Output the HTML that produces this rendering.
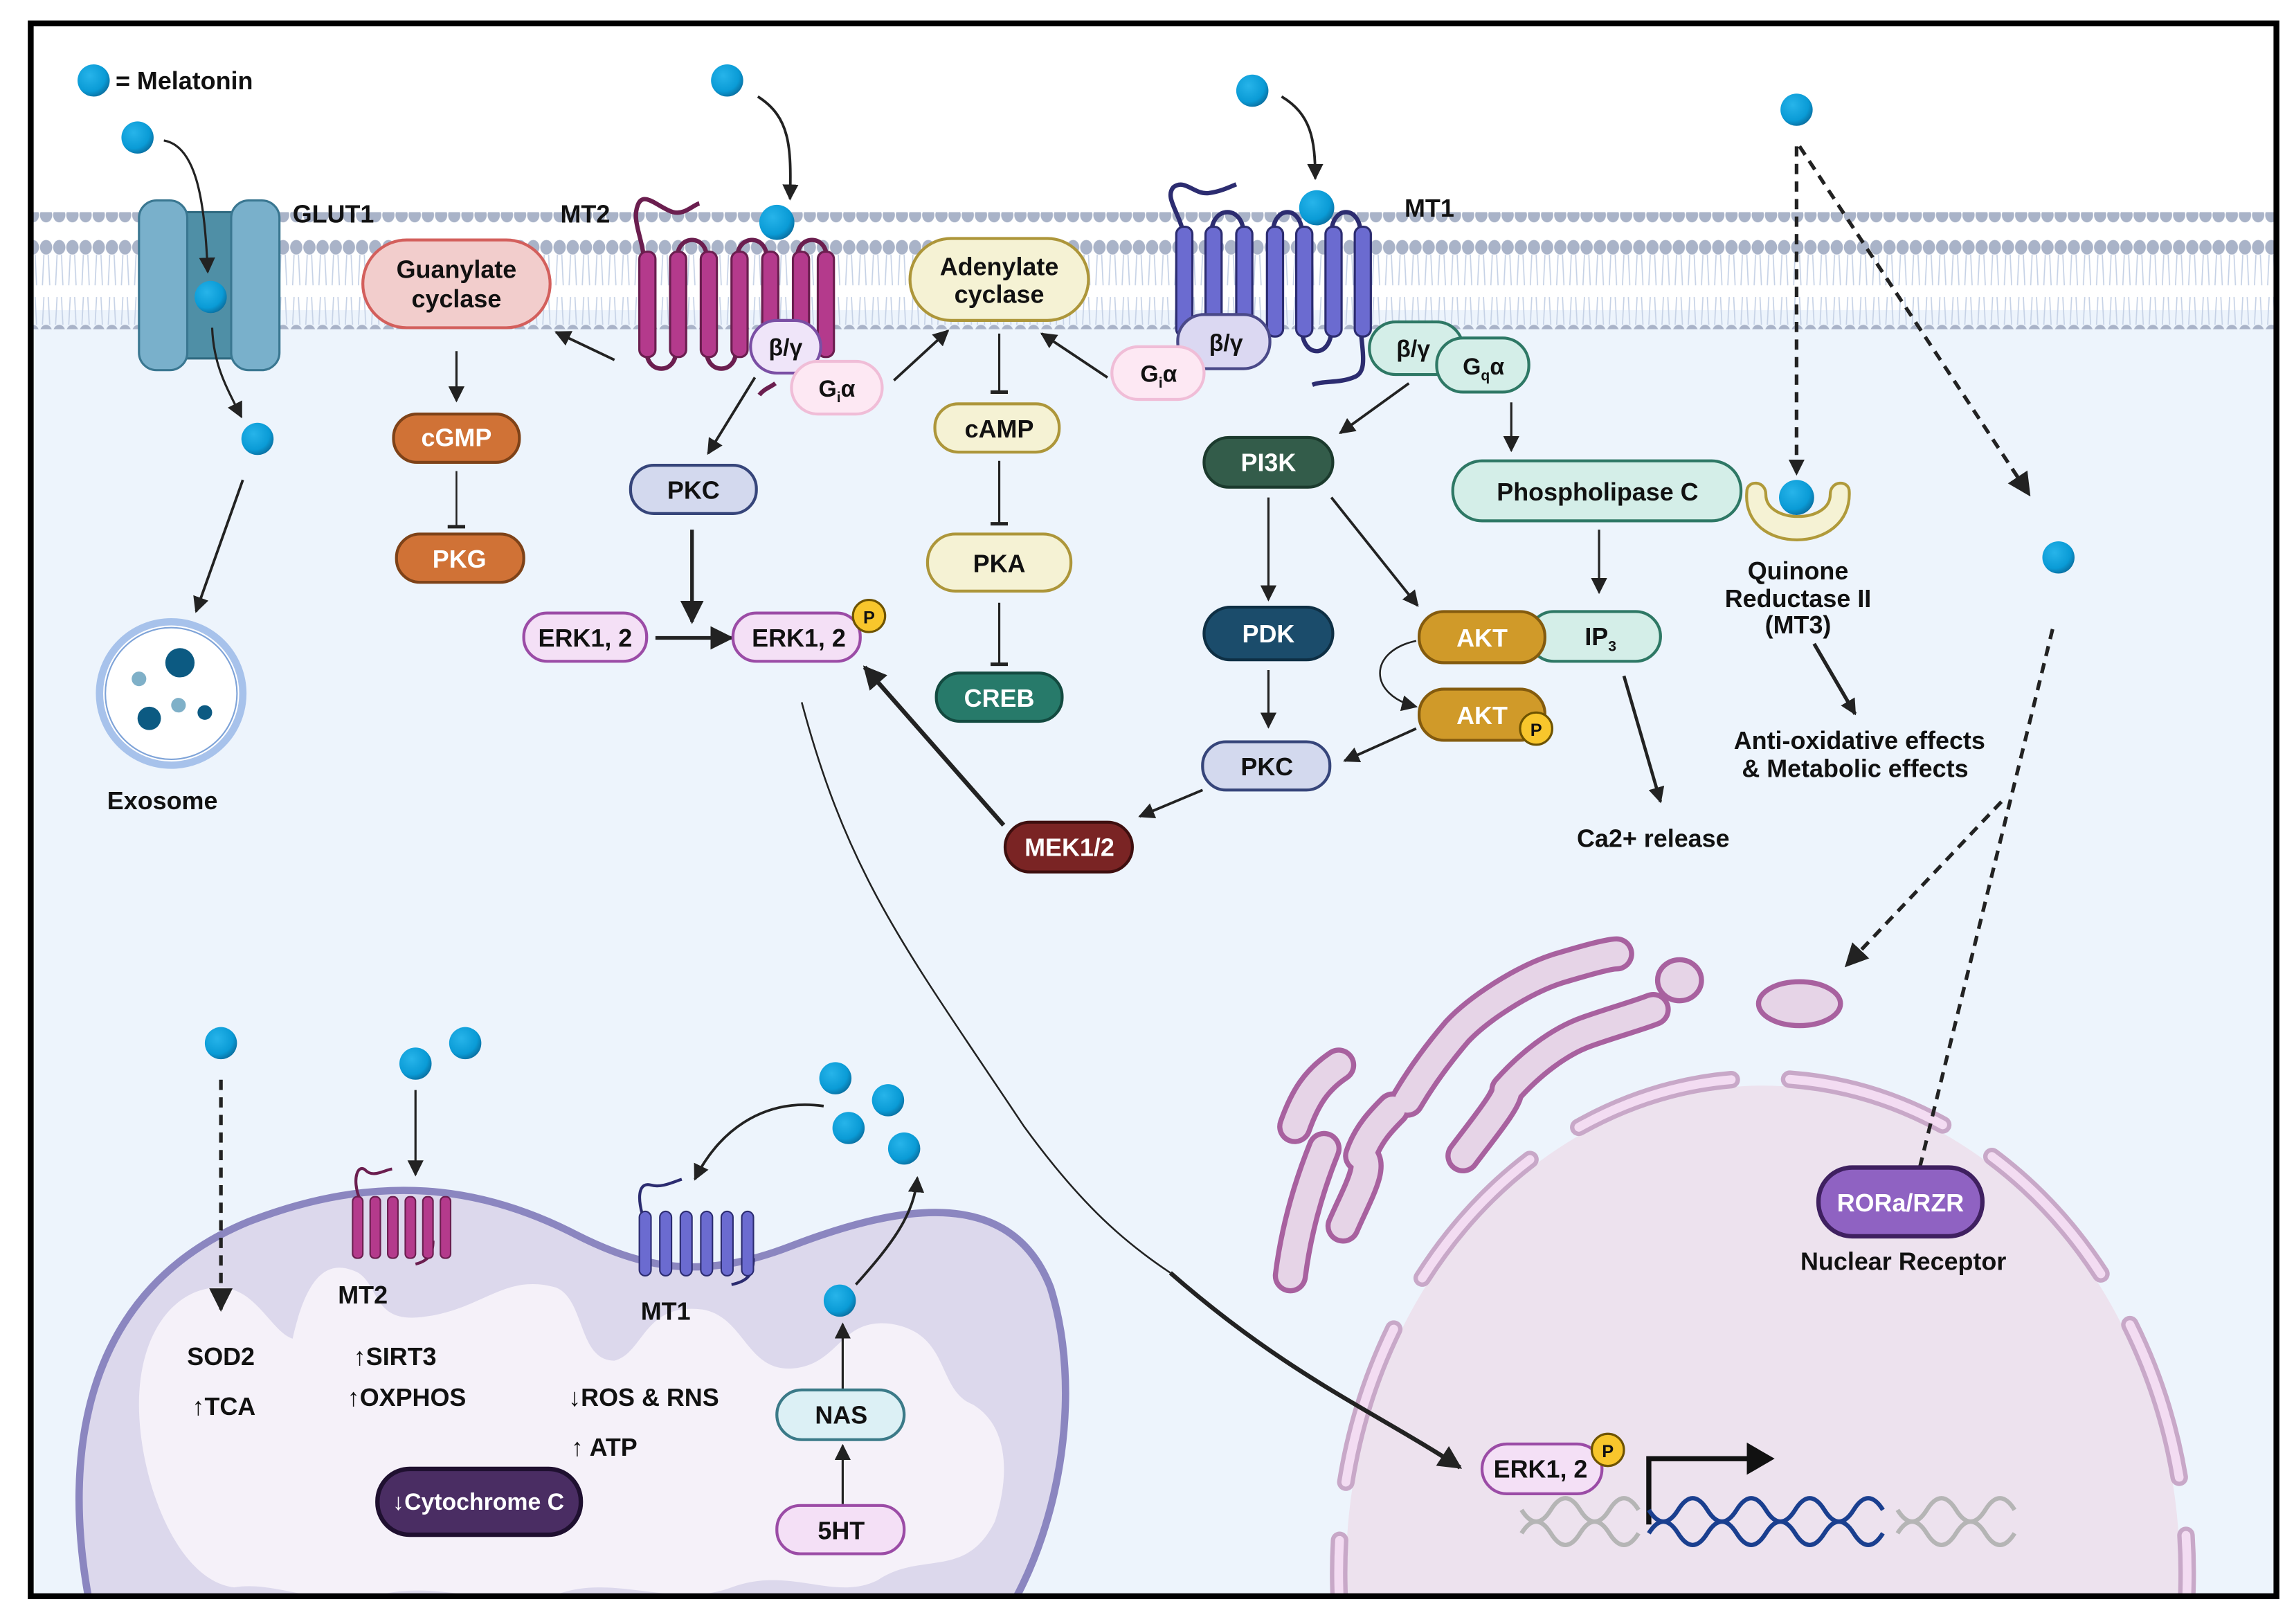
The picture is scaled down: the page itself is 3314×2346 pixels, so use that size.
<!DOCTYPE html>
<html><head><meta charset="utf-8">
<style>
html,body{margin:0;padding:0;background:#fff;width:3314px;height:2346px;overflow:hidden;}
svg{display:block;}
text{font-family:"Liberation Sans",sans-serif;font-weight:bold;fill:#111;}
</style></head><body>
<svg width="3314" height="2346" viewBox="0 0 1568 1110" xmlns="http://www.w3.org/2000/svg">
<defs>
<radialGradient id="ball" cx="0.38" cy="0.35" r="0.7">
<stop offset="0" stop-color="#27b4ea"/><stop offset="0.7" stop-color="#0a9bd6"/><stop offset="1" stop-color="#0a6d9e"/>
</radialGradient>
<marker id="a" viewBox="0 0 10 10" refX="9" refY="5" markerWidth="11" markerHeight="11" orient="auto" markerUnits="userSpaceOnUse">
<path d="M0,0 L10,5 L0,10 Z" fill="#222"/></marker>
<marker id="ab" viewBox="0 0 10 10" refX="9" refY="5" markerWidth="16" markerHeight="16" orient="auto" markerUnits="userSpaceOnUse">
<path d="M0,0 L10,5 L0,10 Z" fill="#222"/></marker>
<marker id="tb" viewBox="0 0 10 10" refX="5" refY="5" markerWidth="12" markerHeight="12" orient="auto" markerUnits="userSpaceOnUse">
<path d="M5,0 L5,10" stroke="#222" stroke-width="2"/></marker>
<pattern id="mem" x="0" y="0" width="9" height="80" patternUnits="userSpaceOnUse">
<path d="M3,14 L2,35 M6,14 L7,35" stroke="#c6d2e6" stroke-width="0.8" fill="none"/>
<path d="M3,43 L2,62 M6,43 L7,62" stroke="#c6d2e6" stroke-width="0.8" fill="none"/>
<ellipse cx="4.5" cy="9" rx="4.2" ry="5" fill="#a9b3c8"/>
<ellipse cx="4.5" cy="67" rx="4.2" ry="5" fill="#a9b3c8"/>
</pattern>
<clipPath id="frame"><rect x="21" y="16" width="1535" height="1075"/></clipPath>
</defs>

<rect x="0" y="0" width="1568" height="1110" fill="#fff"/>
<rect x="21" y="212" width="1535" height="879" fill="#edf4fc"/>
<rect x="21" y="145" width="1535" height="80" fill="url(#mem)"/>

<g clip-path="url(#frame)">
<ellipse cx="1205" cy="1075" rx="285" ry="333" fill="#ede2ee"/>
<ellipse cx="1205" cy="1075" rx="290" ry="338" fill="none" stroke="#c8a8c8" stroke-width="12" stroke-dasharray="110 40" stroke-linecap="round"/>
<ellipse cx="1205" cy="1075" rx="290" ry="338" fill="none" stroke="#f3dcf2" stroke-width="6" stroke-dasharray="110 40" stroke-linecap="round"/>

<g fill="none" stroke-linecap="round" stroke-linejoin="round">
<g stroke="#a8619f" stroke-width="24">
<path d="M882 872 C 886 840, 895 810, 905 785"/>
<path d="M885 770 C 892 750, 900 738, 915 728"/>
<path d="M918 838 C 928 815, 940 795, 930 790 C 935 775, 945 765, 952 758"/>
<path d="M962 752 C 975 730, 990 712, 996 705 C 1010 690, 1040 670, 1065 662 C 1085 656, 1100 652, 1105 652"/>
<path d="M1000 790 C 1015 770, 1030 752, 1030 745 C 1045 728, 1065 712, 1085 705 C 1105 698, 1120 694, 1130 690"/>
</g>
<g stroke="#e6d4e7" stroke-width="17">
<path d="M882 872 C 886 840, 895 810, 905 785"/>
<path d="M885 770 C 892 750, 900 738, 915 728"/>
<path d="M918 838 C 928 815, 940 795, 930 790 C 935 775, 945 765, 952 758"/>
<path d="M962 752 C 975 730, 990 712, 996 705 C 1010 690, 1040 670, 1065 662 C 1085 656, 1100 652, 1105 652"/>
<path d="M1000 790 C 1015 770, 1030 752, 1030 745 C 1045 728, 1065 712, 1085 705 C 1105 698, 1120 694, 1130 690"/>
</g>
</g>
<ellipse cx="1148" cy="670" rx="15" ry="14" fill="#e6d4e7" stroke="#a8619f" stroke-width="3.5"/>
<ellipse cx="1230" cy="686" rx="28" ry="15" fill="#e6d4e7" stroke="#a8619f" stroke-width="3.5"/>

<path d="M62 1100 C 40 990, 60 880, 170 835 C 260 800, 330 812, 390 842 C 440 868, 480 875, 540 852 C 610 825, 690 808, 718 880 C 740 950, 725 1040, 690 1100 Z" fill="#dcd8ec" stroke="#8b86c0" stroke-width="5"/>
<path d="M95 960 C 95 910, 120 880, 150 880 C 175 880, 185 910, 200 915 C 210 870, 225 860, 245 870 C 260 880, 255 905, 290 900 C 330 895, 345 870, 380 880 C 400 888, 395 930, 420 930 C 440 925, 440 890, 480 895 C 510 900, 510 940, 545 935 C 575 930, 575 900, 610 905 C 650 912, 640 950, 665 960 C 690 975, 690 1010, 680 1040 C 660 1080, 630 1060, 600 1080 C 570 1095, 540 1070, 500 1085 C 460 1100, 420 1075, 380 1090 C 340 1100, 300 1080, 260 1090 C 220 1100, 190 1080, 160 1085 C 120 1080, 95 1010, 95 960 Z" fill="#f5f1f9"/>
</g>

<rect x="21" y="16" width="1535" height="1075" fill="none" stroke="#000" stroke-width="4"/>

<circle cx="64" cy="55" r="11" fill="url(#ball)"/>
<text x="79" y="61" font-size="17">= Melatonin</text>

<path d="M120 145 L165 145 L165 245 L120 245 Z" fill="#4f8fa6" stroke="#2f6a80" stroke-width="1.5"/>
<rect x="95" y="137" width="33" height="116" rx="12" fill="#79b0cb" stroke="#3a7791" stroke-width="1.5"/>
<rect x="158" y="137" width="33" height="116" rx="12" fill="#79b0cb" stroke="#3a7791" stroke-width="1.5"/>
<text x="200" y="152" font-size="17">GLUT1</text>
<circle cx="94" cy="94" r="11" fill="url(#ball)"/>
<path d="M112 96 C 135 100, 140 140, 142 186" fill="none" stroke="#222" stroke-width="1.5" marker-end="url(#a)"/>
<circle cx="144" cy="203" r="11" fill="url(#ball)"/>
<path d="M145 224 C 146 250, 155 265, 165 285" fill="none" stroke="#222" stroke-width="1.5" marker-end="url(#a)"/>
<circle cx="176" cy="300" r="11" fill="url(#ball)"/>
<path d="M166 328 L134 418" fill="none" stroke="#222" stroke-width="1.8" marker-end="url(#a)"/>
<circle cx="117" cy="474" r="49" fill="#fff" stroke="#a7c2eb" stroke-width="5"/>
<circle cx="117" cy="474" r="45" fill="none" stroke="#7ea3d8" stroke-width="1"/>
<circle cx="123" cy="453" r="10" fill="#0c5a82"/>
<circle cx="102" cy="491" r="8" fill="#0c5a82"/>
<circle cx="140" cy="487" r="5" fill="#0c5a82"/>
<circle cx="95" cy="464" r="5" fill="#7fb0c8"/>
<circle cx="122" cy="482" r="5" fill="#7fb0c8"/>
<text x="111" y="553" font-size="17" text-anchor="middle">Exosome</text>

<rect x="248" y="164" width="128" height="60" rx="30" fill="#f2cdcc" stroke="#d35f5c" stroke-width="2"/>
<text x="312" y="190" font-size="17" text-anchor="middle">Guanylate</text>
<text x="312" y="210" font-size="17" text-anchor="middle">cyclase</text>
<path d="M420 246 L380 227" stroke="#222" stroke-width="1.8" marker-end="url(#a)"/>
<path d="M312 240 L312 274" stroke="#222" stroke-width="1.5" marker-end="url(#a)"/>
<rect x="269" y="283" width="86" height="33" rx="16" fill="#d07236" stroke="#7e4218" stroke-width="2"/>
<text x="312" y="305" font-size="17" text-anchor="middle" style="fill:#fff">cGMP</text>
<path d="M312 322 L312 360" stroke="#222" stroke-width="1.2" marker-end="url(#tb)"/>
<rect x="271" y="365" width="87" height="33" rx="16" fill="#d07236" stroke="#7e4218" stroke-width="2"/>
<text x="314" y="388" font-size="17" text-anchor="middle" style="fill:#fff">PKG</text>

<g>
<path d="M440 175 C 438 160, 432 150, 436 140 C 440 130, 450 142, 460 145 C 468 147, 474 140, 478 139" fill="none" stroke="#6b1e4f" stroke-width="3"/>
<path d="M442 240 C 442 256, 462 256, 462 240 M483 240 C 483 256, 503 256, 503 240 M524 240 C 524 256, 544 256, 544 240 M463 176 C 463 160, 483 160, 483 176 M504 176 C 504 160, 524 160, 524 176 M545 176 C 545 160, 565 160, 565 176" fill="none" stroke="#6b1e4f" stroke-width="3"/>
<path d="M530 262 C 526 265, 522 266, 519 270" fill="none" stroke="#6b1e4f" stroke-width="3"/>
<g fill="#b43a8c" stroke="#6b1e4f" stroke-width="1.5">
<rect x="437" y="172" width="11" height="72" rx="5"/>
<rect x="458" y="172" width="11" height="72" rx="5"/>
<rect x="479" y="172" width="11" height="72" rx="5"/>
<rect x="500" y="172" width="11" height="72" rx="5"/>
<rect x="521" y="172" width="11" height="72" rx="5"/>
<rect x="542" y="172" width="11" height="72" rx="5"/>
<rect x="559" y="172" width="11" height="72" rx="5"/>
</g>
</g>
<text x="383" y="152" font-size="17">MT2</text>
<circle cx="497" cy="55" r="11" fill="url(#ball)"/>
<path d="M518 66 C 540 80, 541 100, 540 136" fill="none" stroke="#222" stroke-width="1.8" marker-end="url(#a)"/>
<circle cx="531" cy="152" r="12" fill="url(#ball)"/>
<rect x="513" y="219" width="48" height="36" rx="18" fill="#efe5f9" stroke="#7a4fa4" stroke-width="2"/>
<text x="537" y="243" font-size="16" text-anchor="middle">β/γ</text>
<rect x="541" y="247" width="62" height="36" rx="18" fill="#fde8f3" stroke="#f0bdd7" stroke-width="2"/>
<text x="572" y="271" font-size="16" text-anchor="middle">G<tspan font-size="10" dy="4">i</tspan><tspan dy="-4">α</tspan></text>
<path d="M516 258 L484 310" stroke="#222" stroke-width="1.8" marker-end="url(#a)"/>
<rect x="431" y="318" width="86" height="33" rx="16" fill="#d3d9ee" stroke="#36457a" stroke-width="2"/>
<text x="474" y="341" font-size="17" text-anchor="middle">PKC</text>
<path d="M473 362 L473 425" stroke="#222" stroke-width="2.5" marker-end="url(#ab)"/>
<rect x="358" y="419" width="84" height="33" rx="16" fill="#f4e0f6" stroke="#9b4ca6" stroke-width="2"/>
<text x="400" y="442" font-size="17" text-anchor="middle">ERK1, 2</text>
<path d="M448 436 L500 436" stroke="#222" stroke-width="2.5" marker-end="url(#ab)"/>
<rect x="501" y="419" width="87" height="33" rx="16" fill="#f4e0f6" stroke="#9b4ca6" stroke-width="2"/>
<text x="546" y="442" font-size="17" text-anchor="middle">ERK1, 2</text>
<circle cx="594" cy="421" r="11" fill="#f8c62c" stroke="#6e5300" stroke-width="1.5"/>
<text x="594" y="426" font-size="12" text-anchor="middle">P</text>

<path d="M611 260 L648 226" stroke="#222" stroke-width="1.8" marker-end="url(#a)"/>
<rect x="622" y="163" width="122" height="56" rx="28" fill="#f5f2d4" stroke="#ad963a" stroke-width="2"/>
<text x="683" y="188" font-size="17" text-anchor="middle">Adenylate</text>
<text x="683" y="207" font-size="17" text-anchor="middle">cyclase</text>
<path d="M757 258 L712 228" stroke="#222" stroke-width="1.8" marker-end="url(#a)"/>
<path d="M683 228 L683 268" stroke="#222" stroke-width="1.5" marker-end="url(#tb)"/>
<rect x="639" y="276" width="85" height="33" rx="16" fill="#f5f2d4" stroke="#ad963a" stroke-width="2"/>
<text x="683" y="299" font-size="17" text-anchor="middle">cAMP</text>
<path d="M683 315 L683 358" stroke="#222" stroke-width="1.5" marker-end="url(#tb)"/>
<rect x="634" y="365" width="98" height="39" rx="19" fill="#f5f2d4" stroke="#ad963a" stroke-width="2"/>
<text x="683" y="391" font-size="17" text-anchor="middle">PKA</text>
<path d="M683 412 L683 454" stroke="#222" stroke-width="1.5" marker-end="url(#tb)"/>
<rect x="640" y="460" width="86" height="33" rx="16" fill="#277a6a" stroke="#134a40" stroke-width="2"/>
<text x="683" y="483" font-size="17" text-anchor="middle" style="fill:#fff">CREB</text>

<g>
<path d="M809 160 C 806 145, 796 135, 802 128 C 810 122, 816 133, 826 132 C 834 131, 840 128, 845 126" fill="none" stroke="#2c2c70" stroke-width="3"/>
<path d="M828 160 C 828 140, 850 140, 850 160 M870 160 C 870 140, 890 140, 890 160 M910 160 C 910 140, 930 140, 930 160 M890 225 C 890 245, 910 245, 910 225 M930 225 C 932 245, 934 255, 925 258 C 915 262, 905 260, 897 263" fill="none" stroke="#2c2c70" stroke-width="3"/>
<g fill="#6b6bd0" stroke="#2c2c70" stroke-width="1.5">
<rect x="804" y="155" width="11" height="75" rx="5"/>
<rect x="824" y="155" width="11" height="75" rx="5"/>
<rect x="845" y="155" width="11" height="75" rx="5"/>
<rect x="866" y="155" width="11" height="75" rx="5"/>
<rect x="886" y="155" width="11" height="75" rx="5"/>
<rect x="906" y="155" width="11" height="75" rx="5"/>
<rect x="926" y="155" width="11" height="75" rx="5"/>
</g>
</g>
<text x="960" y="148" font-size="17">MT1</text>
<circle cx="856" cy="62" r="11" fill="url(#ball)"/>
<path d="M876 66 C 896 78, 899 95, 899 122" fill="none" stroke="#222" stroke-width="1.8" marker-end="url(#a)"/>
<circle cx="900" cy="142" r="12" fill="url(#ball)"/>
<rect x="805" y="215" width="63" height="37" rx="18" fill="#dbd8f2" stroke="#4a4988" stroke-width="2"/>
<text x="838" y="240" font-size="16" text-anchor="middle">β/γ</text>
<rect x="760" y="237" width="63" height="36" rx="18" fill="#fde8f3" stroke="#f0bdd7" stroke-width="2"/>
<text x="792" y="261" font-size="16" text-anchor="middle">G<tspan font-size="10" dy="4">i</tspan><tspan dy="-4">α</tspan></text>
<rect x="936" y="220" width="64" height="36" rx="18" fill="#d4eee8" stroke="#2e7865" stroke-width="2"/>
<text x="966" y="244" font-size="16" text-anchor="middle">β/γ</text>
<rect x="982" y="231" width="63" height="37" rx="18" fill="#d4eee8" stroke="#2e7865" stroke-width="2"/>
<text x="1014" y="256" font-size="16" text-anchor="middle">G<tspan font-size="10" dy="4">q</tspan><tspan dy="-4">α</tspan></text>

<path d="M963 262 L916 296" stroke="#222" stroke-width="1.8" marker-end="url(#a)"/>
<rect x="823" y="299" width="88" height="34" rx="17" fill="#335c4a" stroke="#1b3a2d" stroke-width="2"/>
<text x="867" y="322" font-size="17" text-anchor="middle" style="fill:#fff">PI3K</text>
<path d="M1033 275 L1033 308" stroke="#222" stroke-width="1.5" marker-end="url(#a)"/>
<rect x="993" y="315" width="197" height="41" rx="20" fill="#d4eee8" stroke="#2e7865" stroke-width="2"/>
<text x="1092" y="342" font-size="17" text-anchor="middle">Phospholipase C</text>
<path d="M867 340 L867 410" stroke="#222" stroke-width="1.5" marker-end="url(#a)"/>
<rect x="823" y="415" width="88" height="36" rx="18" fill="#1b4c6b" stroke="#0e2f44" stroke-width="2"/>
<text x="867" y="439" font-size="17" text-anchor="middle" style="fill:#fff">PDK</text>
<path d="M910 340 L969 414" stroke="#222" stroke-width="1.8" marker-end="url(#a)"/>
<path d="M1093 362 L1093 405" stroke="#222" stroke-width="1.5" marker-end="url(#a)"/>
<rect x="1045" y="418" width="90" height="34" rx="17" fill="#d4eee8" stroke="#2e7865" stroke-width="2"/>
<text x="1094" y="441" font-size="17" text-anchor="middle">IP<tspan font-size="10" dy="4">3</tspan></text>
<rect x="970" y="418" width="86" height="35" rx="17" fill="#d09a29" stroke="#845b0e" stroke-width="2"/>
<text x="1013" y="442" font-size="17" text-anchor="middle" style="fill:#fff">AKT</text>
<path d="M968 438 C 935 445, 935 475, 968 483" fill="none" stroke="#222" stroke-width="1.2" marker-end="url(#a)"/>
<rect x="970" y="471" width="86" height="35" rx="17" fill="#d09a29" stroke="#845b0e" stroke-width="2"/>
<text x="1013" y="495" font-size="17" text-anchor="middle" style="fill:#fff">AKT</text>
<circle cx="1050" cy="498" r="11" fill="#f8c62c" stroke="#6e5300" stroke-width="1.5"/>
<text x="1050" y="503" font-size="12" text-anchor="middle">P</text>
<path d="M867 458 L867 497" stroke="#222" stroke-width="1.5" marker-end="url(#a)"/>
<path d="M968 498 L919 520" stroke="#222" stroke-width="1.8" marker-end="url(#a)"/>
<rect x="822" y="507" width="87" height="33" rx="16" fill="#d3d9ee" stroke="#36457a" stroke-width="2"/>
<text x="866" y="530" font-size="17" text-anchor="middle">PKC</text>
<path d="M822 540 L779 558" stroke="#222" stroke-width="1.8" marker-end="url(#a)"/>
<rect x="687" y="562" width="87" height="34" rx="17" fill="#7a2424" stroke="#3e0f0f" stroke-width="2"/>
<text x="731" y="585" font-size="17" text-anchor="middle" style="fill:#fff">MEK1/2</text>
<path d="M686 564 L591 456" stroke="#222" stroke-width="3" marker-end="url(#ab)"/>
<path d="M1110 462 L1135 548" stroke="#222" stroke-width="2.2" marker-end="url(#a)"/>
<text x="1130" y="579" font-size="17" text-anchor="middle">Ca2+ release</text>

<circle cx="1228" cy="75" r="11" fill="url(#ball)"/>
<path d="M1228 100 L1228 324" stroke="#222" stroke-width="2.5" stroke-dasharray="7 5" marker-end="url(#a)"/>
<path d="M1230 100 L1387 338" stroke="#222" stroke-width="2.5" stroke-dasharray="7 5" marker-end="url(#ab)"/>
<path d="M1194 336 C 1190 380, 1266 380, 1264 336 C 1264 328, 1251 328, 1251 338 C 1251 358, 1207 358, 1207 338 C 1207 328, 1194 328, 1194 336 Z" fill="#f5f2d4" stroke="#b09a3a" stroke-width="2"/>
<circle cx="1228" cy="340" r="12" fill="url(#ball)"/>
<text x="1229" y="396" font-size="17" text-anchor="middle">Quinone</text>
<text x="1229" y="415" font-size="17" text-anchor="middle">Reductase II</text>
<text x="1229" y="433" font-size="17" text-anchor="middle">(MT3)</text>
<path d="M1240 440 L1268 488" stroke="#222" stroke-width="2.5" marker-end="url(#a)"/>
<text x="1271" y="512" font-size="17" text-anchor="middle">Anti-oxidative effects</text>
<text x="1268" y="531" font-size="17" text-anchor="middle">&amp; Metabolic effects</text>
<circle cx="1407" cy="381" r="11" fill="url(#ball)"/>
<path d="M1403 430 L1308 815" stroke="#222" stroke-width="2.5" stroke-dasharray="7 5" marker-end="url(#a)"/>
<path d="M1368 548 L1262 660" stroke="#222" stroke-width="2.5" stroke-dasharray="7 5" marker-end="url(#ab)"/>
<rect x="1243" y="798" width="112" height="47" rx="23" fill="#8f62c2" stroke="#3f2060" stroke-width="3"/>
<text x="1299" y="828" font-size="17" text-anchor="middle" style="fill:#fff">RORa/RZR</text>
<text x="1301" y="868" font-size="17" text-anchor="middle">Nuclear Receptor</text>

<path d="M548 480 C 580 600, 620 650, 700 770 C 740 825, 770 850, 800 870" fill="none" stroke="#222" stroke-width="1.2"/>
<path d="M800 870 C 880 940, 940 965, 998 1003" fill="none" stroke="#222" stroke-width="3" marker-end="url(#ab)"/>
<rect x="1013" y="987" width="82" height="34" rx="17" fill="#f4e0f6" stroke="#9b4ca6" stroke-width="2"/>
<text x="1053" y="1010" font-size="17" text-anchor="middle">ERK1, 2</text>
<circle cx="1099" cy="991" r="11" fill="#f8c62c" stroke="#6e5300" stroke-width="1.5"/>
<text x="1099" y="996" font-size="12" text-anchor="middle">P</text>
<path d="M1127 1042 L1127 997 L1196 997" fill="none" stroke="#111" stroke-width="3.5"/>
<path d="M1194 986 L1213 997 L1194 1008 Z" fill="#111"/>
<g fill="none" stroke-width="3">
<path d="M1040 1032 q10 16 20 0 t20 0 t20 0 t20 0 M1040 1048 q10 -16 20 0 t20 0 t20 0 t20 0" stroke="#b5b5b5"/>
<path d="M1127 1032 q10 16 20 0 t20 0 t20 0 t20 0 t20 0 t20 0 t20 0 t20 0 M1127 1048 q10 -16 20 0 t20 0 t20 0 t20 0 t20 0 t20 0 t20 0 t20 0" stroke="#1a3f8f"/>
<path d="M1297 1032 q10 16 20 0 t20 0 t20 0 t20 0 M1297 1048 q10 -16 20 0 t20 0 t20 0 t20 0" stroke="#b5b5b5"/>
</g>

<circle cx="151" cy="713" r="11" fill="url(#ball)"/>
<path d="M151 738 L151 895" stroke="#222" stroke-width="2.5" stroke-dasharray="7 5" marker-end="url(#ab)"/>
<circle cx="284" cy="727" r="11" fill="url(#ball)"/>
<circle cx="318" cy="713" r="11" fill="url(#ball)"/>
<path d="M284 745 L284 803" stroke="#222" stroke-width="1.5" marker-end="url(#a)"/>
<g>
<path d="M246 820 C 240 805, 245 795, 250 800 C 255 805, 262 800, 268 799 M296 848 C 296 858, 292 862, 284 864" fill="none" stroke="#6b1e4f" stroke-width="2"/>
<g fill="#b43a8c" stroke="#6b1e4f" stroke-width="1">
<rect x="241" y="818" width="7" height="42" rx="3"/>
<rect x="253" y="818" width="7" height="42" rx="3"/>
<rect x="265" y="818" width="7" height="42" rx="3"/>
<rect x="277" y="818" width="7" height="42" rx="3"/>
<rect x="289" y="818" width="7" height="42" rx="3"/>
<rect x="301" y="818" width="7" height="42" rx="3"/>
</g>
</g>
<text x="248" y="891" font-size="17" text-anchor="middle">MT2</text>
<g>
<path d="M439 830 C 435 815, 438 808, 445 810 C 452 812, 460 808, 466 806 M515 860 C 515 872, 510 876, 500 878" fill="none" stroke="#2c2c70" stroke-width="2"/>
<g fill="#6b6bd0" stroke="#2c2c70" stroke-width="1">
<rect x="437" y="828" width="8" height="44" rx="4"/>
<rect x="451" y="828" width="8" height="44" rx="4"/>
<rect x="465" y="828" width="8" height="44" rx="4"/>
<rect x="479" y="828" width="8" height="44" rx="4"/>
<rect x="493" y="828" width="8" height="44" rx="4"/>
<rect x="507" y="828" width="8" height="44" rx="4"/>
</g>
</g>
<text x="455" y="902" font-size="17" text-anchor="middle">MT1</text>
<circle cx="571" cy="737" r="11" fill="url(#ball)"/>
<circle cx="607" cy="752" r="11" fill="url(#ball)"/>
<circle cx="580" cy="771" r="11" fill="url(#ball)"/>
<circle cx="618" cy="785" r="11" fill="url(#ball)"/>
<path d="M563 756 C 520 750, 490 775, 475 806" fill="none" stroke="#222" stroke-width="1.8" marker-end="url(#a)"/>
<circle cx="574" cy="889" r="11" fill="url(#ball)"/>
<path d="M585 878 C 610 850, 625 830, 627 805" fill="none" stroke="#222" stroke-width="1.8" marker-end="url(#a)"/>
<path d="M576 950 L576 905" stroke="#222" stroke-width="1.5" marker-end="url(#a)"/>
<rect x="531" y="950" width="87" height="34" rx="17" fill="#dcf0f5" stroke="#3b7a88" stroke-width="2"/>
<text x="575" y="973" font-size="17" text-anchor="middle">NAS</text>
<path d="M576 1028 L576 988" stroke="#222" stroke-width="1.5" marker-end="url(#a)"/>
<rect x="531" y="1029" width="87" height="33" rx="16" fill="#f4e0f6" stroke="#9b4ca6" stroke-width="2"/>
<text x="575" y="1052" font-size="17" text-anchor="middle">5HT</text>
<text x="151" y="933" font-size="17" text-anchor="middle">SOD2</text>
<text x="153" y="967" font-size="17" text-anchor="middle">↑TCA</text>
<text x="270" y="933" font-size="17" text-anchor="middle">↑SIRT3</text>
<text x="278" y="961" font-size="17" text-anchor="middle">↑OXPHOS</text>
<text x="440" y="961" font-size="17" text-anchor="middle">↓ROS &amp; RNS</text>
<text x="413" y="995" font-size="17" text-anchor="middle">↑ ATP</text>
<rect x="258" y="1004" width="139" height="45" rx="22" fill="#4a2d63" stroke="#1f1030" stroke-width="3"/>
<text x="327" y="1032" font-size="16" text-anchor="middle" style="fill:#fff">↓Cytochrome C</text>
</svg>
</body></html>
